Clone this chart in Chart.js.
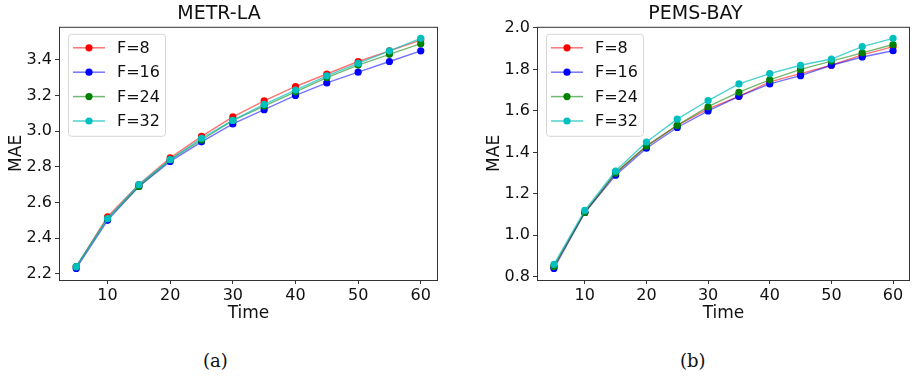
<!DOCTYPE html>
<html>
<head>
<meta charset="utf-8">
<script src="https://cdn.jsdelivr.net/npm/chart.js@4/dist/chart.umd.min.js"></script>
<style>
  body { margin: 0; background: #fff; width: 914px; height: 378px; position: relative; overflow: hidden; }
  canvas { position: absolute; top: 0; }
  .cap { position: absolute; top: 350px; font-family: "DejaVu Serif", "Liberation Serif", serif; font-size: 18px; color: #111; }
</style>
</head>
<body>
<canvas id="la" width="460" height="325" style="left:0"></canvas>
<canvas id="bay" width="436" height="325" style="left:478px"></canvas>
<div class="cap" style="left:203px">(a)</div>
<div class="cap" style="left:680px">(b)</div>
<script>
var times = [5, 10, 15, 20, 25, 30, 35, 40, 45, 50, 55, 60];

// METR-LA
var laF8  = [2.24, 2.52, 2.70, 2.85, 2.97, 3.08, 3.17, 3.25, 3.32, 3.39, 3.45, 3.51];
var laF16 = [2.23, 2.50, 2.69, 2.83, 2.94, 3.04, 3.12, 3.20, 3.27, 3.33, 3.39, 3.45];
var laF24 = [2.24, 2.51, 2.69, 2.84, 2.95, 3.06, 3.14, 3.22, 3.30, 3.37, 3.43, 3.49];
var laF32 = [2.24, 2.51, 2.70, 2.84, 2.96, 3.06, 3.15, 3.23, 3.31, 3.38, 3.45, 3.52];

// PEMS-BAY
var bayF8  = [0.85, 1.11, 1.30, 1.43, 1.53, 1.61, 1.67, 1.74, 1.78, 1.82, 1.87, 1.91];
var bayF16 = [0.84, 1.11, 1.29, 1.42, 1.52, 1.60, 1.67, 1.73, 1.77, 1.82, 1.86, 1.89];
var bayF24 = [0.85, 1.11, 1.30, 1.43, 1.53, 1.62, 1.69, 1.75, 1.80, 1.84, 1.88, 1.92];
var bayF32 = [0.86, 1.12, 1.31, 1.45, 1.56, 1.65, 1.73, 1.78, 1.82, 1.85, 1.91, 1.95];

var seriesNames = ['F=8', 'F=16', 'F=24', 'F=32'];
var seriesColors = ['#ff0000', '#0000ff', '#008000', '#00bfbf'];
var lineColors = ['rgba(255,0,0,0.55)', 'rgba(0,0,255,0.55)', 'rgba(0,128,0,0.55)', 'rgba(0,191,191,0.7)'];

var xTicks = [10, 20, 30, 40, 50, 60];
var laTicks = [2.2, 2.4, 2.6, 2.8, 3.0, 3.2, 3.4];
var bayTicks = [0.8, 1.0, 1.2, 1.4, 1.6, 1.8, 2.0];

var font = "'DejaVu Sans', sans-serif";

// box around the plot + legend inside the top-left corner
var framePlugin = {
  id: 'frame',
  afterDraw: function(chart) {
    var c = chart.ctx, a = chart.chartArea;
    c.save();
    c.strokeStyle = '#333';
    c.lineWidth = 1;
    c.strokeRect(a.left + 0.5, a.top + 0.5, a.right - a.left - 1, a.bottom - a.top);

    var bx = a.left + 9, by = a.top + 7, bw = 97, bh = 102;
    c.beginPath();
    c.roundRect(bx + 0.5, by + 0.5, bw, bh, 3);
    c.fillStyle = 'rgba(255,255,255,0.85)';
    c.fill();
    c.strokeStyle = '#d6d6d6';
    c.stroke();

    c.font = '16px ' + font;
    c.textBaseline = 'middle';
    chart.data.datasets.forEach(function(ds, i) {
      var y = by + 14 + i * 24.4;
      c.strokeStyle = ds.borderColor;
      c.lineWidth = 1.5;
      c.beginPath();
      c.moveTo(bx + 5, y);
      c.lineTo(bx + 37, y);
      c.stroke();
      c.fillStyle = ds.pointBackgroundColor;
      c.beginPath();
      c.arc(bx + 21, y, 3.6, 0, Math.PI * 2);
      c.fill();
      c.fillStyle = '#111';
      c.fillText(ds.label, bx + 49, y + 1);
    });
    c.restore();
  }
};

function makeChart(id, title, series, yTicks, yMin, yMax, rightPad) {
  var datasets = series.map(function(vals, i) {
    return {
      label: seriesNames[i],
      data: times.map(function(t, j) { return { x: t, y: vals[j] }; }),
      borderColor: lineColors[i],
      borderWidth: 1.4,
      pointBackgroundColor: seriesColors[i],
      pointBorderColor: seriesColors[i],
      pointRadius: 3.6,
      pointBorderWidth: 0,
      tension: 0,
      order: 4 - i
    };
  });
  return new Chart(document.getElementById(id), {
    type: 'line',
    data: { datasets: datasets },
    plugins: [framePlugin],
    options: {
      responsive: false,
      animation: false,
      layout: { padding: { left: 0, right: rightPad, top: 0, bottom: 0 } },
      plugins: {
        legend: { display: false },
        tooltip: { enabled: false },
        title: {
          display: true, text: title, color: '#111',
          font: { family: font, size: 19, weight: 'normal' },
          padding: { top: 3, bottom: 1 }
        }
      },
      scales: {
        x: {
          type: 'linear', min: 2.25, max: 62.75,
          afterBuildTicks: function(s) { s.ticks = xTicks.map(function(v) { return { value: v }; }); },
          afterFit: function(s) { s.height = 45; },
          grid: { display: true, drawOnChartArea: false, drawTicks: true, tickLength: 4, color: '#333' },
          border: { display: false },
          ticks: { color: '#111', font: { family: font, size: 16 }, padding: 2, maxRotation: 0 },
          title: { display: true, text: 'Time', color: '#111', font: { family: font, size: 17 }, padding: { top: 0, bottom: 1 } }
        },
        y: {
          type: 'linear', min: yMin, max: yMax,
          afterBuildTicks: function(s) { s.ticks = yTicks.map(function(v) { return { value: v }; }); },
          afterFit: function(s) { s.width = 59; },
          grid: { display: true, drawOnChartArea: false, drawTicks: true, tickLength: 4, color: '#333' },
          border: { display: false },
          ticks: { color: '#111', font: { family: font, size: 16 }, padding: 3,
                   callback: function(v) { return v.toFixed(1); } },
          title: { display: true, text: 'MAE', color: '#111', font: { family: font, size: 17 }, padding: { top: 6, bottom: 0 } }
        }
      }
    }
  });
}

makeChart('la', 'METR-LA', [laF8, laF16, laF24, laF32], laTicks, 2.1655, 3.5845, 22);
makeChart('bay', 'PEMS-BAY', [bayF8, bayF16, bayF24, bayF32], bayTicks, 0.7845, 2.0055, 1);
</script>
</body>
</html>
